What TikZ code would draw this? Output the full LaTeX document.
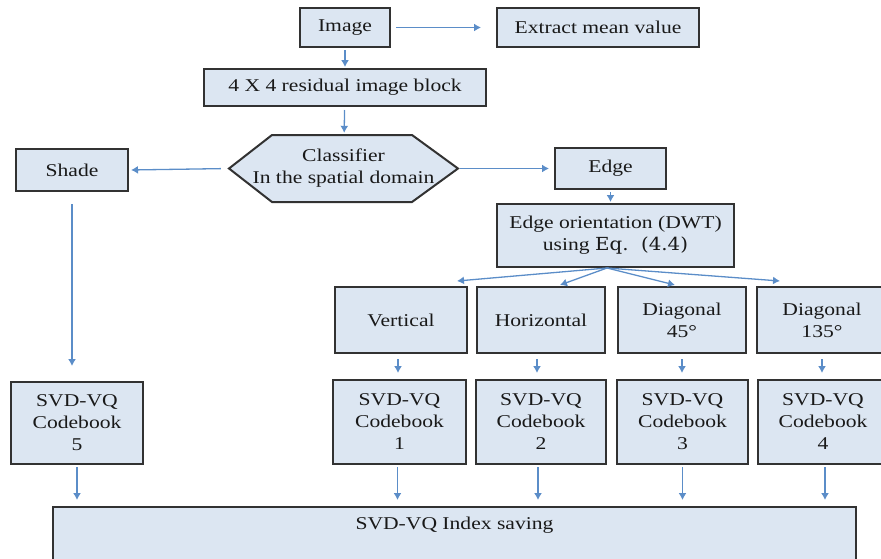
\documentclass[tikz,border=0pt]{standalone}
\usepackage{fontspec}
\setmainfont{Liberation Serif}[FakeStretch=1.2]
\newfontfamily\eqfont{DejaVu Serif}[FakeStretch=1.1]
\usepackage{xcolor}
\usepackage{tikz}
\usetikzlibrary{arrows.meta,calc}
\definecolor{boxfill}{RGB}{220,230,242}
\definecolor{boxline}{RGB}{50,50,50}
\definecolor{arrowblue}{RGB}{91,141,200}

\begin{document}
\begin{tikzpicture}[
            x=1pt, y=-1pt,
            every node/.style={font=\fontsize{18}{22}\selectfont, text=black!90},
            box/.style={draw=boxline, line width=2pt, fill=boxfill, align=center, inner sep=2pt},
            hexline/.style={draw=boxline, line width=2pt, fill=boxfill},
            arr/.style={draw=arrowblue, line width=1.3pt, -{Latex[length=7pt,width=8pt]}},
        ]
            \useasboundingbox (0,0) rectangle (881,558);
            \clip (0,0) rectangle (881,558);

            % classifier hexagon, drawn directly under its text node
            \draw[hexline] (229,168.5) -- (272,135) -- (412,135) -- (458,168.5) -- (412,202) -- (272,202) -- cycle;

            \node[box, minimum width=90pt, minimum height=39pt] (img) at (345,27.5) {Image};
            \node[box, minimum width=202pt, minimum height=39pt] (mean) at (598,27.5) {Extract mean value};
            \node[box, minimum width=282pt, minimum height=37pt] (blk) at (345,87.5) {4 X 4 residual image block};
            \node[align=center, inner sep=0pt, minimum width=229pt, minimum height=67pt] (cls) at (343.5,168.5) {Classifier\\In the spatial domain};
            \node[box, minimum width=112pt, minimum height=42pt] (shade) at (72,170) {Shade};
            \node[box, minimum width=111pt, minimum height=41pt] (edge) at (610.5,168.5) {Edge};
            \node[box, minimum width=237pt, minimum height=63pt] (ori) at (615.5,235.5) {Edge orientation (DWT)\\ using {\eqfont Eq.\ \ (4.4)}};

            \node[box, minimum width=132pt, minimum height=66pt] (vert) at (401,320) {Vertical};
            \node[box, minimum width=128pt, minimum height=66pt] (hor) at (541,320) {Horizontal};
            \node[box, minimum width=128pt, minimum height=66pt] (dfortyfive) at (682,320) {Diagonal\\45°};
            \node[box, minimum width=130pt, minimum height=66pt] (donethirtyfive) at (822,320) {Diagonal\\135°};

            \node[box, minimum width=132pt, minimum height=82pt] (cbfive) at (77,423) {SVD-VQ\\Codebook\\5};
            \node[box, minimum width=133pt, minimum height=84pt] (cbone) at (399.5,422) {SVD-VQ\\Codebook\\1};
            \node[box, minimum width=130pt, minimum height=84pt] (cbtwo) at (541,422) {SVD-VQ\\Codebook\\2};
            \node[box, minimum width=131pt, minimum height=84pt] (cbthree) at (682.5,422) {SVD-VQ\\Codebook\\3};
            \node[box, minimum width=130pt, minimum height=84pt] (cbfour) at (823,422) {SVD-VQ\\Codebook\\4};

            \node[box, anchor=north, minimum width=803pt, text height=20pt, text depth=50pt] (idx) at (454.5,506) {SVD-VQ Index saving};

            % points where the orientation arrows end
            \coordinate (fan) at (607,268);
            \coordinate (tvert) at (457,281);
            \coordinate (thor) at (560,285);
            \coordinate (tdfortyfive) at (675,285);
            \coordinate (tdonethirtyfive) at (780,281);

            \draw[arr, shorten <=5pt, shorten >=15pt] (img) -- (mean);
            \draw[arr, shorten <=2pt, shorten >=1pt] (img) -- (blk);
            \draw[arr, shorten <=3pt, shorten >=2pt] (blk) -- (cls);
            \draw[arr, shorten <=8pt, shorten >=2pt] (cls.west) -- (shade.east);
            \draw[arr, shorten <=2pt, shorten >=5pt] (cls.east) -- (edge.west);
            \draw[arr, shorten <=2pt, shorten >=1pt] (edge.south) -- (edge.south |- ori.north);
            \draw[arr, shorten <=12pt, shorten >=15pt] (shade) -- (shade |- cbfive.north);

            \draw[arr] (fan) -- (tvert);
            \draw[arr] (fan) -- (thor);
            \draw[arr] (fan) -- (tdfortyfive);
            \draw[arr] (fan) -- (tdonethirtyfive);

            \draw[arr, shorten <=5pt, shorten >=6pt] ([xshift=-3pt]vert.south) -- ([xshift=-3pt]vert.south |- cbone.north);
            \draw[arr, shorten <=5pt, shorten >=6pt] ([xshift=-4pt]hor.south) -- ([xshift=-4pt]hor.south |- cbtwo.north);
            \draw[arr, shorten <=5pt, shorten >=6pt] (dfortyfive.south) -- (dfortyfive.south |- cbthree.north);
            \draw[arr, shorten <=5pt, shorten >=6pt] (donethirtyfive.south) -- (donethirtyfive.south |- cbfour.north);

            \draw[arr, shorten <=2pt, shorten >=6pt] (cbfive.south) -- (cbfive.south |- idx.north);
            \draw[arr, shorten <=2pt, shorten >=6pt] ([xshift=-2pt]cbone.south) -- ([xshift=-2pt]cbone.south |- idx.north);
            \draw[arr, shorten <=2pt, shorten >=6pt] ([xshift=-3pt]cbtwo.south) -- ([xshift=-3pt]cbtwo.south |- idx.north);
            \draw[arr, shorten <=2pt, shorten >=6pt] (cbthree.south) -- (cbthree.south |- idx.north);
            \draw[arr, shorten <=2pt, shorten >=6pt] ([xshift=2pt]cbfour.south) -- ([xshift=2pt]cbfour.south |- idx.north);
        \end{tikzpicture}
\end{document}
